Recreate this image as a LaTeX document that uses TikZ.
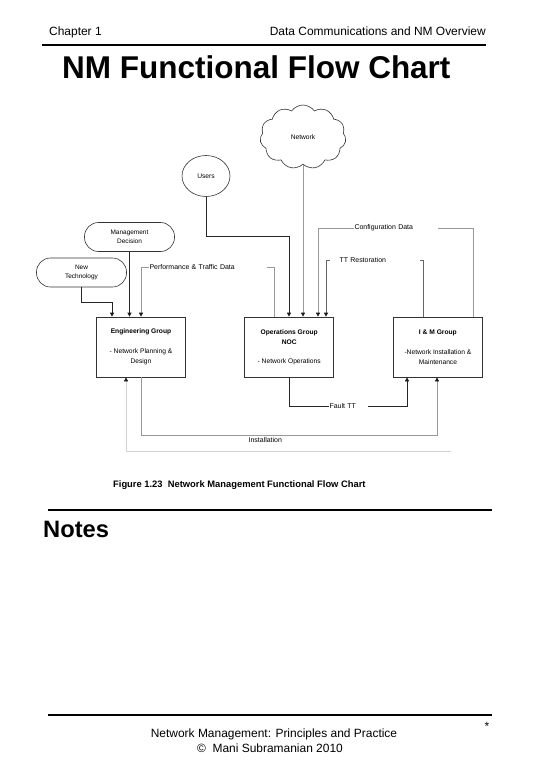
\documentclass[tikz,border=0pt]{standalone}
\usepackage{fontspec}
\setmainfont{Liberation Sans}
\usetikzlibrary{arrows.meta,positioning,shapes.geometric,shapes.symbols,calc}
\tikzset{
  grpbox/.style={
    draw=black!80,
    rectangle,
    line width=0.7bp,
    minimum width=89bp,
    minimum height=60bp,
    align=center,
    font=\fontsize{6.7}{10}\selectfont
  },
  inputoval/.style={
    draw=black!80,
    rounded corners=14bp,
    line width=0.6bp,
    minimum width=90bp,
    minimum height=29bp,
    align=center,
    inner sep=1bp,
    font=\fontsize{6.5}{9}\selectfont
  },
  flow/.style={-{Triangle[length=4bp,width=4bp,color=black!90]},line width=0.7bp,draw=black!85},
  flowlight/.style={flow,draw=black!40},
  flowfaint/.style={flow,draw=black!18},
  lbl/.style={font=\fontsize{7}{8}\selectfont,inner sep=1bp},
  gaplbl/.style={lbl,fill=white,align=left},
  rule/.style={line width=2bp}
}

\begin{document}
\begin{tikzpicture}[x=1bp,y=-1bp]
\useasboundingbox (0,0) rectangle (540,780);

% page header
\node[anchor=base west,inner sep=0,font=\fontsize{12}{14}\selectfont] (chap) at (49,35.7) {Chapter 1};
\node[anchor=base east,inner sep=0,font=\fontsize{12}{14}\selectfont] (topic) at (486,35.7) {Data Communications and NM Overview};
\draw[rule] (42,45) -- (486,45);
\node[anchor=base west,inner sep=0,font=\fontsize{31.6}{36}\selectfont\bfseries] (title) at (62,78) {NM Functional Flow Chart};

% inputs
\node[cloud,cloud puffs=11,cloud puff arc=110,aspect=1.4,draw=black!80,line width=0.6bp,
  minimum width=86bp,minimum height=64bp,font=\fontsize{6.7}{8}\selectfont] (net) at (303,137) {Network};
\node[ellipse,draw=black!80,line width=0.6bp,minimum width=48bp,minimum height=41bp,inner sep=0,
  font=\fontsize{6.7}{8}\selectfont] (users) at (206,176) {Users};
\node[inputoval] (mgmt) at (129.5,237) {Management\\Decision};
\node[inputoval] (newtech) at (81.5,272.5) {New\\Technology};

% groups
\node[grpbox] (eng) at (141,347) {\textbf{Engineering Group}\\[10bp]- Network Planning \&\\Design};
\node[grpbox, right=58.5bp of eng] (ops) {\textbf{Operations Group}\\\textbf{NOC}\\[9bp]- Network Operations};
\node[grpbox, right=59bp of ops] (imgrp) {\textbf{I \& M Group}\\[10bp]-Network Installation \&\\Maintenance};

% bends
\coordinate (ntbend) at (112,302);
\coordinate (usrbend) at (289,236);
\coordinate (perfR) at (274,267);
\coordinate (perfL) at (141,267);
\coordinate (cfgR) at (473,228);
\coordinate (cfgL) at (318,228);
\coordinate (ttR) at (423,260);
\coordinate (ttL) at (326,260);
\coordinate (faultL) at (289,406);
\coordinate (faultR) at (407,406);
\coordinate (instL) at (141,435);
\coordinate (instR) at (437,435);
\coordinate (retR) at (451,451);
\coordinate (retL) at (126,451);

% New Technology - Engineering
\draw[flow] (newtech.south) |- (ntbend) -- (ntbend |- eng.north);
% Management Decision - Engineering
\draw[flow] (mgmt.south) -- (mgmt.south |- eng.north);
% Operations - Engineering
\draw[flowlight] (perfR |- ops.north) -- (perfR)
  -- node[gaplbl,text width=116bp]{Performance \& Traffic Data} (perfL) -- (perfL |- eng.north);
% Users - Operations
\draw[flow] (users.south) |- (usrbend) -- (usrbend |- ops.north);
% Network - Operations
\draw[flowlight] (net.south) -- (net.south |- ops.north);
% I&M - Operations
\draw[flowlight] (cfgR |- imgrp.north) -- (cfgR)
  -- node[gaplbl,text width=82bp]{Configuration Data} (cfgL) -- (cfgL |- ops.north);
\draw[flow,draw=black!60] (ttR |- imgrp.north) -- (ttR)
  -- node[gaplbl,text width=70bp,inner xsep=10bp]{TT Restoration} (ttL) -- (ttL |- ops.north);
% Operations - I&M
\draw[flow] (ops.south -| faultL) -- (faultL)
  -- node[gaplbl,text width=37bp]{Fault TT} (faultR) -- (faultR |- imgrp.south);
% Engineering - I&M
\draw[flowlight] (eng.south -| instL) -- (instL)
  -- node[lbl,below=1bp,pos=0.42]{Installation} (instR) -- (instR |- imgrp.south);
\draw[flowfaint] (retR) -- (retL) -- (retL |- eng.south);

\node[anchor=base west,inner sep=0,font=\fontsize{9.4}{11}\selectfont\bfseries] (caption) at (113,487)
  {Figure 1.23\ \ Network Management Functional Flow Chart};

% notes
\draw[rule] (48,510) -- (492,510);
\node[anchor=base west,inner sep=0,font=\fontsize{23.8}{28}\selectfont\bfseries] (notes) at (43,537) {Notes};

% page footer
\draw[rule] (48,715) -- (492,715);
\node[anchor=base,inner sep=0,font=\fontsize{12}{14}\selectfont] (book) at (274,737) {Network Management: Principles and Practice};
\node[anchor=base,inner sep=0,font=\fontsize{12}{14}\selectfont] (author) at (270,752) {\textcopyright\ \ Mani Subramanian 2010};
\node[anchor=base,inner sep=0,font=\fontsize{12}{14}\selectfont] (star) at (487,730) {*};
\end{tikzpicture}
\end{document}
